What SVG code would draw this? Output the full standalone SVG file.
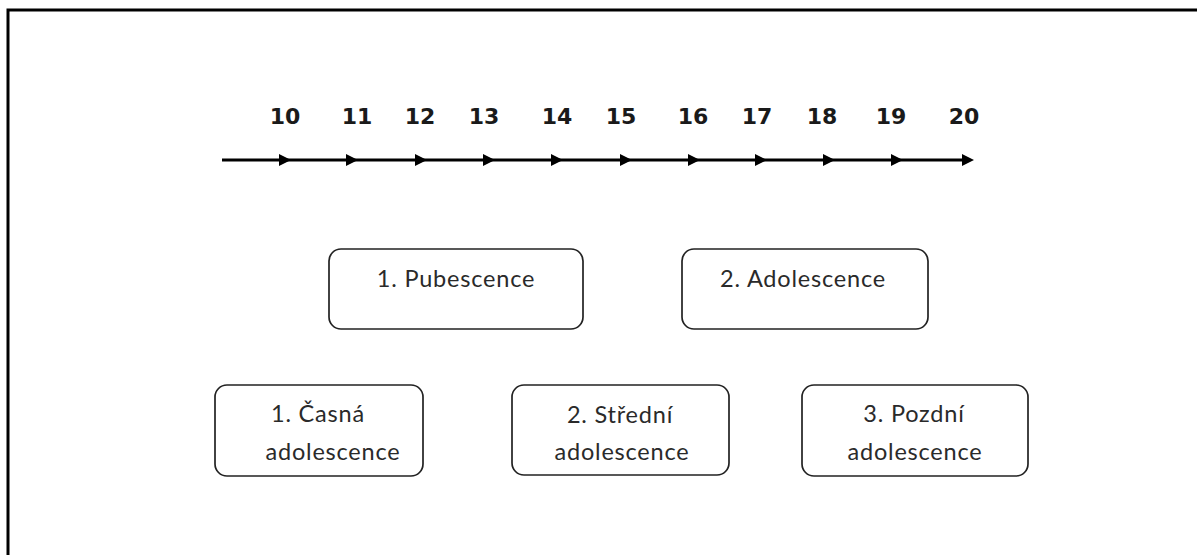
<svg xmlns="http://www.w3.org/2000/svg" width="1197" height="555" viewBox="0 0 1197 555">
<style>
.num{font-family:"DejaVu Sans",Verdana,sans-serif;font-weight:bold;font-size:22px;fill:#1a1a1a;text-anchor:middle}
.box{fill:#fff;stroke:#222;stroke-width:1.7}
.lbl{font-family:Lato,"Open Sans",sans-serif;font-size:23.5px;fill:#2a2a2a;text-anchor:middle;letter-spacing:0.8px}
.axis{stroke:#000;stroke-width:3;fill:none}
</style>
<defs>
<polygon id="ah" points="0,0 -12,-6 -12,6" fill="#000"/>
</defs>
<rect x="0" y="0" width="1197" height="555" fill="#fff"/>
<path d="M8,555 V10 H1197" fill="none" stroke="#000" stroke-width="3"/>
<g id="axis-labels">
<text class="num" x="285" y="124">10</text>
<text class="num" x="357" y="124">11</text>
<text class="num" x="420" y="124">12</text>
<text class="num" x="484" y="124">13</text>
<text class="num" x="557" y="124">14</text>
<text class="num" x="621" y="124">15</text>
<text class="num" x="693" y="124">16</text>
<text class="num" x="757" y="124">17</text>
<text class="num" x="822" y="124">18</text>
<text class="num" x="891" y="124">19</text>
<text class="num" x="964" y="124">20</text>
</g>
<g id="connectors">
<line class="axis" x1="222" y1="160" x2="962" y2="160"/>
<use href="#ah" x="291" y="160"/>
<use href="#ah" x="358" y="160"/>
<use href="#ah" x="427" y="160"/>
<use href="#ah" x="495" y="160"/>
<use href="#ah" x="563" y="160"/>
<use href="#ah" x="632" y="160"/>
<use href="#ah" x="700" y="160"/>
<use href="#ah" x="767" y="160"/>
<use href="#ah" x="835" y="160"/>
<use href="#ah" x="903" y="160"/>
<use href="#ah" x="974" y="160"/>
</g>
<g id="pubescence">
<rect class="box" x="329" y="249" width="254" height="80" rx="12"/>
<text class="lbl" x="456" y="287">1. Pubescence</text>
</g>
<g id="adolescence">
<rect class="box" x="682" y="249" width="246" height="80" rx="12"/>
<text class="lbl" x="803" y="287">2. Adolescence</text>
</g>
<g id="casna">
<rect class="box" x="215" y="385" width="208" height="91" rx="12"/>
<text class="lbl" x="318" y="422">1. Časná</text>
<text class="lbl" x="333" y="460">adolescence</text>
</g>
<g id="stredni">
<rect class="box" x="512" y="385" width="217" height="90" rx="12"/>
<text class="lbl" x="620" y="423">2. Střední</text>
<text class="lbl" x="622" y="460">adolescence</text>
</g>
<g id="pozdni">
<rect class="box" x="802" y="385" width="226" height="91" rx="12"/>
<text class="lbl" x="914" y="422">3. Pozdní</text>
<text class="lbl" x="915" y="460">adolescence</text>
</g>
</svg>
